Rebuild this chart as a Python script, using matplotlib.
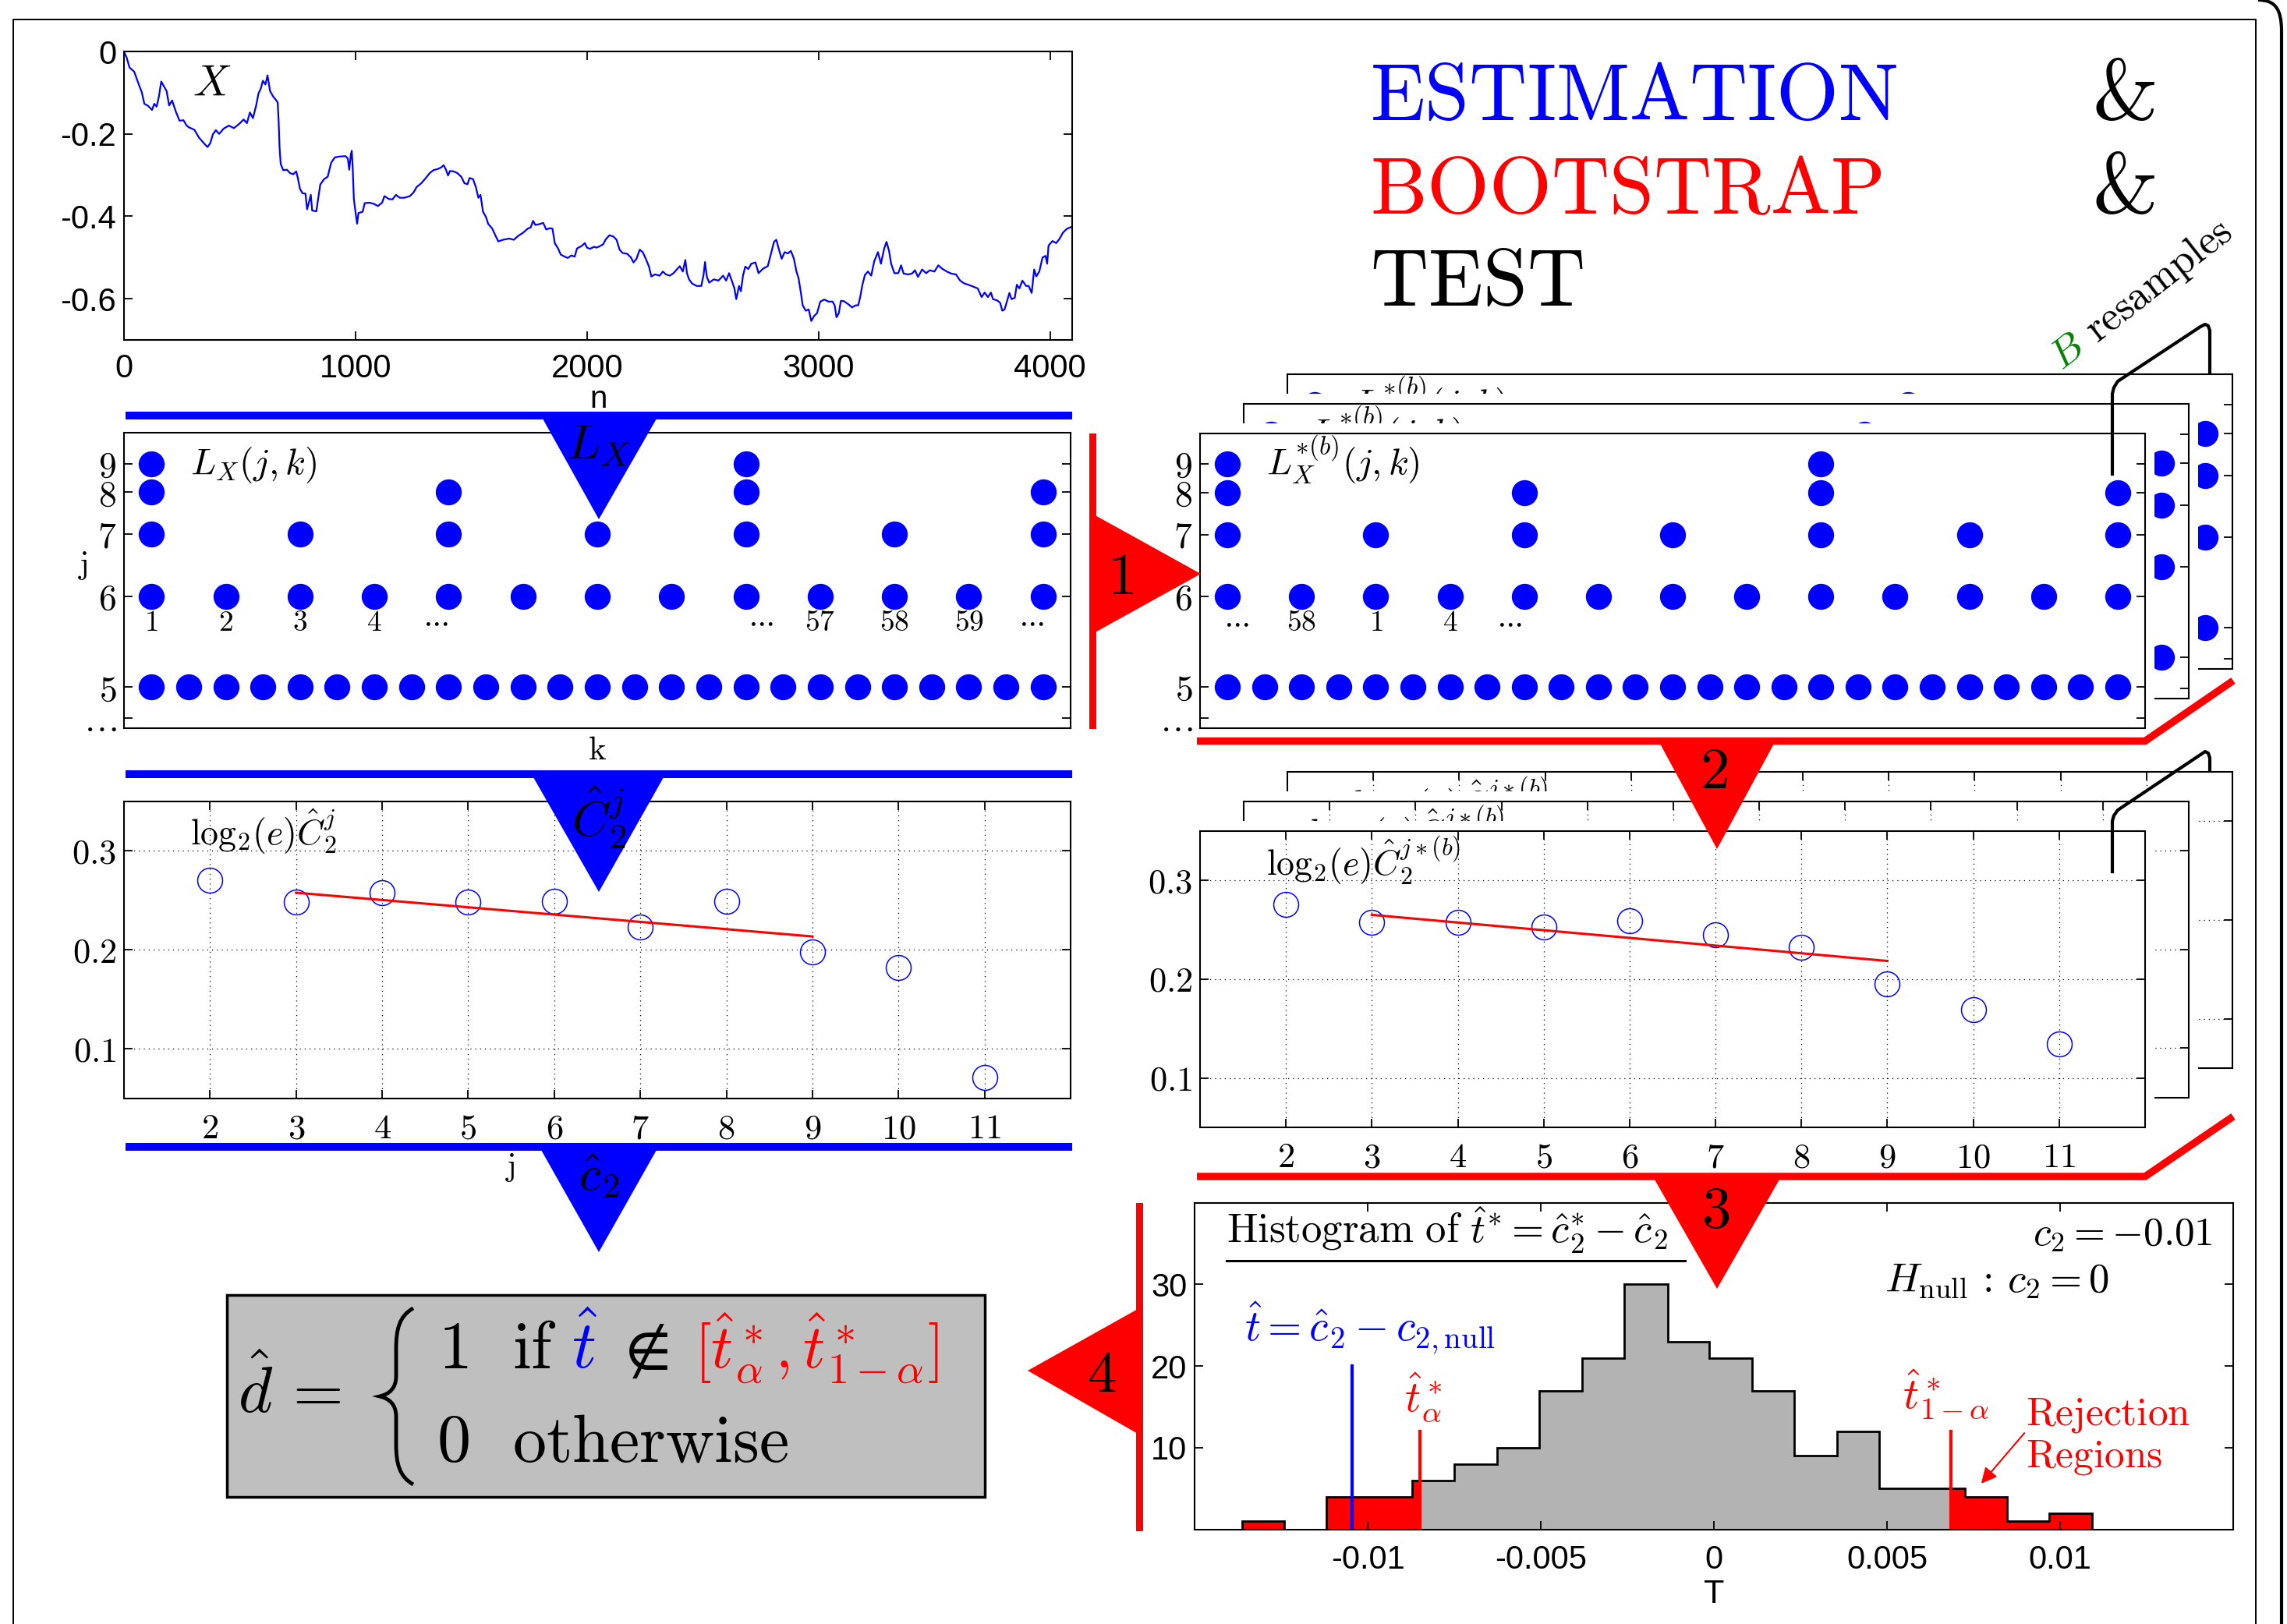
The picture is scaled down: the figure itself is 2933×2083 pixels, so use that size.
import numpy as np
import matplotlib
matplotlib.use("Agg")
import matplotlib.pyplot as plt
from matplotlib.patches import Polygon, Rectangle, PathPatch
from matplotlib.path import Path
from matplotlib.ticker import NullLocator

plt.rcParams['mathtext.fontset'] = 'cm'
plt.rcParams['font.family'] = ['Liberation Sans', 'DejaVu Sans']
plt.rcParams['axes.linewidth'] = 1.5

BLUE = '#0000ff'
RED = '#ff0000'
GREEN = '#008000'

# ---------------- data ----------------
# sample path X(n)
ts_points = [
    (0, -0.001), (11, -0.014), (24, -0.039), (44, -0.049), (64, -0.080), (77, -0.099), (88, -0.127),
    (104, -0.132), (121, -0.142), (131, -0.127), (141, -0.134), (151, -0.109), (161, -0.073),
    (171, -0.083), (184, -0.096), (195, -0.131), (208, -0.119), (224, -0.146), (240, -0.168),
    (257, -0.167), (271, -0.180), (280, -0.184), (304, -0.190), (324, -0.209), (344, -0.222),
    (361, -0.232), (373, -0.222), (384, -0.201), (397, -0.191), (411, -0.200), (431, -0.187),
    (453, -0.180), (475, -0.186), (497, -0.176), (517, -0.165), (531, -0.174), (544, -0.148),
    (557, -0.162), (571, -0.131), (581, -0.102), (591, -0.090), (600, -0.071), (611, -0.080),
    (620, -0.058), (631, -0.096), (644, -0.109), (657, -0.118), (664, -0.124), (668, -0.168),
    (672, -0.232), (677, -0.273), (688, -0.288), (704, -0.287), (717, -0.295), (731, -0.298),
    (744, -0.291), (751, -0.307), (760, -0.333), (771, -0.344), (784, -0.345), (791, -0.383),
    (800, -0.364), (807, -0.348), (813, -0.386), (831, -0.388), (837, -0.364), (848, -0.323),
    (864, -0.310), (880, -0.304), (895, -0.270), (911, -0.257), (931, -0.255), (957, -0.254),
    (967, -0.260), (973, -0.287), (980, -0.250), (984, -0.241), (988, -0.282), (993, -0.358),
    (1000, -0.389), (1007, -0.418), (1013, -0.392), (1031, -0.389), (1040, -0.368), (1061, -0.367),
    (1080, -0.370), (1097, -0.375), (1115, -0.367), (1125, -0.351), (1144, -0.358), (1160, -0.359),
    (1175, -0.348), (1191, -0.355), (1211, -0.355), (1235, -0.351), (1251, -0.342), (1264, -0.329),
    (1284, -0.320), (1304, -0.307), (1321, -0.295), (1337, -0.288), (1357, -0.285), (1371, -0.281),
    (1381, -0.276), (1391, -0.287), (1400, -0.301), (1408, -0.290), (1424, -0.291), (1440, -0.295),
    (1457, -0.304), (1471, -0.320), (1484, -0.322), (1493, -0.307), (1508, -0.310), (1520, -0.329),
    (1531, -0.355), (1540, -0.348), (1551, -0.389), (1564, -0.402), (1573, -0.418), (1591, -0.430),
    (1604, -0.446), (1617, -0.461), (1637, -0.457), (1664, -0.454), (1684, -0.457), (1704, -0.447),
    (1724, -0.440), (1744, -0.430), (1757, -0.427), (1767, -0.411), (1777, -0.421), (1795, -0.419),
    (1811, -0.416), (1824, -0.432), (1840, -0.429), (1851, -0.430), (1861, -0.465), (1875, -0.478),
    (1887, -0.493), (1904, -0.498), (1917, -0.501), (1933, -0.495), (1947, -0.498), (1957, -0.478),
    (1977, -0.472), (1991, -0.465), (2000, -0.476), (2013, -0.479), (2031, -0.474), (2041, -0.476),
    (2054, -0.473), (2070, -0.468), (2081, -0.456), (2097, -0.446), (2114, -0.449), (2128, -0.457),
    (2141, -0.481), (2154, -0.489), (2174, -0.491), (2190, -0.500), (2201, -0.512), (2214, -0.503),
    (2228, -0.481), (2241, -0.487), (2254, -0.503), (2268, -0.522), (2278, -0.546), (2294, -0.541),
    (2314, -0.544), (2328, -0.534), (2341, -0.541), (2358, -0.544), (2374, -0.538), (2388, -0.529),
    (2401, -0.521), (2414, -0.534), (2425, -0.506), (2432, -0.538), (2441, -0.553), (2454, -0.563),
    (2474, -0.569), (2494, -0.569), (2504, -0.541), (2510, -0.511), (2518, -0.547), (2528, -0.561),
    (2548, -0.553), (2568, -0.556), (2588, -0.544), (2601, -0.556), (2614, -0.538), (2628, -0.560),
    (2637, -0.575), (2645, -0.601), (2657, -0.569), (2665, -0.582), (2674, -0.544), (2684, -0.522),
    (2697, -0.528), (2710, -0.515), (2728, -0.512), (2741, -0.538), (2761, -0.527), (2781, -0.521),
    (2794, -0.493), (2808, -0.462), (2818, -0.457), (2828, -0.478), (2841, -0.503), (2854, -0.487),
    (2868, -0.490), (2881, -0.484), (2894, -0.503), (2905, -0.534), (2914, -0.550), (2924, -0.585),
    (2932, -0.616), (2945, -0.629), (2958, -0.626), (2969, -0.654), (2981, -0.642), (2994, -0.635),
    (3008, -0.607), (3025, -0.602), (3044, -0.607), (3061, -0.607), (3070, -0.616), (3078, -0.645),
    (3088, -0.635), (3097, -0.605), (3110, -0.606), (3128, -0.613), (3145, -0.621), (3161, -0.616),
    (3172, -0.616), (3181, -0.594), (3190, -0.566), (3201, -0.542), (3214, -0.534), (3228, -0.544),
    (3241, -0.509), (3257, -0.487), (3270, -0.515), (3284, -0.478), (3294, -0.462), (3305, -0.484),
    (3314, -0.515), (3328, -0.538), (3345, -0.538), (3357, -0.519), (3368, -0.539), (3388, -0.541),
    (3404, -0.539), (3417, -0.531), (3430, -0.547), (3448, -0.529), (3465, -0.538), (3481, -0.531),
    (3501, -0.534), (3518, -0.519), (3534, -0.527), (3554, -0.534), (3574, -0.539), (3594, -0.541),
    (3612, -0.556), (3630, -0.563), (3652, -0.567), (3674, -0.572), (3688, -0.575), (3705, -0.596),
    (3718, -0.585), (3732, -0.596), (3745, -0.585), (3754, -0.601), (3772, -0.604), (3785, -0.610),
    (3794, -0.629), (3804, -0.626), (3814, -0.607), (3825, -0.586), (3834, -0.601), (3848, -0.598),
    (3857, -0.566), (3868, -0.575), (3881, -0.556), (3897, -0.569), (3908, -0.569), (3921, -0.586),
    (3932, -0.529), (3941, -0.546), (3954, -0.534), (3968, -0.500), (3981, -0.496), (3988, -0.515),
    (3994, -0.471), (4011, -0.460), (4027, -0.465), (4041, -0.455), (4057, -0.439), (4074, -0.430),
    (4092, -0.426),
]
ts_n = [p[0] for p in ts_points]
ts_x = [p[1] for p in ts_points]

# wavelet leaders present at each scale j (index k, spacing 2^j)
lead_k = {5: list(range(25)), 6: list(range(13)), 7: list(range(7)), 8: [0, 1, 2, 3], 9: [0, 1]}
lead_ticks = [4.731, 5, 6, 7, 8, 9]
lead_ticklabels = [r'$\ldots$', '$5$', '$6$', '$7$', '$8$', '$9$']

# block labels written under the j=6 row (position in j=6 index units)
orig_blocks = ['1', '2', '3', '4', r'\cdots', r'\cdots', '57', '58', '59', r'\cdots']
orig_block_at = [0, 1, 2, 3, 3.82, 8.2, 9, 10, 11, 11.84]
boot_blocks = [r'\cdots', '58', '1', '4', r'\cdots']
boot_block_at = [0.12, 1, 2, 3, 3.8]

# structure functions
scales = [2, 3, 4, 5, 6, 7, 8, 9, 10, 11]
c2_orig = [0.270, 0.248, 0.2575, 0.248, 0.249, 0.223, 0.249, 0.198, 0.182, 0.071]
c2_boot = [0.2755, 0.258, 0.258, 0.253, 0.259, 0.245, 0.232, 0.1955, 0.1694, 0.1348]
fit_j = [3, 9]
fit_orig = [0.2575, 0.2133]
fit_boot = [0.2652, 0.2185]

# bootstrap histogram of t*
hist_edges = [-0.01363, -0.0124, -0.01119, -0.00998, -0.00872, -0.00749, -0.00626, -0.00504,
              -0.00381, -0.00258, -0.00134, -0.00013, 0.0011, 0.00233, 0.00355, 0.00478,
              0.00601, 0.00725, 0.00846, 0.00969, 0.01092]
hist_counts = [1, 0, 4, 4, 6, 8, 10, 17, 21, 30, 23, 21, 17, 9, 12, 5, 5, 4, 1, 2]
t_hat = -0.01044
t_lo = -0.0085
t_hi = 0.00685

# ---------------- figure ----------------
W, H = 2933, 2083
fig = plt.figure(figsize=(W / 100, H / 100), dpi=100)
fig.patch.set_facecolor('white')


def add_panel(l, t, r, b, z=0):
    return fig.add_axes([l / W, 1 - b / H, (r - l) / W, (b - t) / H], zorder=z)


def backdrop(l, t, r, b, z):
    fig.add_artist(Rectangle((l / W, 1 - b / H), (r + 12 - l) / W, (b - t + 13) / H,
                             transform=fig.transFigure, fc='white', ec='none', zorder=z))


def box_ticks(ax, **kw):
    ax.tick_params(direction='in', top=True, right=True, length=8, width=1.3, **kw)


def panel_text(ax, dx, dy, s, size, **kw):
    bb = ax.get_position()
    wpx, hpx = bb.width * W, bb.height * H
    ax.text(dx / wpx, 1 - dy / hpx, s, transform=ax.transAxes, fontsize=size,
            va='baseline', ha='left', **kw)


def lvl_fwd(j):
    return -np.power(1.47, -np.asarray(j, dtype=float))


def lvl_inv(y):
    y = np.minimum(np.asarray(y, dtype=float), -1e-12)
    return -np.log(-y) / np.log(1.47)


def leader_panel(ax, blocks, block_at, title, labels=True):
    ax.set_yscale('function', functions=(lvl_fwd, lvl_inv))
    for j, ks in lead_k.items():
        xs = np.array(ks) * 2.0 ** j
        ax.plot(xs, np.full(len(xs), j), 'o', color=BLUE, ms=24, mew=0)
    ax.set_xlim(-0.74 * 32, 24.74 * 32)
    ax.set_ylim(4.65, 10.83)
    ax.set_yticks(lead_ticks)
    ax.set_yticklabels(lead_ticklabels if labels else [])
    ax.yaxis.set_minor_locator(NullLocator())
    ax.set_xticks([])
    box_ticks(ax, labelsize=33, pad=7)
    for b, pos in zip(blocks, block_at):
        ax.annotate('$' + b + '$', (pos * 2 ** 6, 6), xytext=(0, -34), textcoords='offset pixels',
                    ha='center', va='center', fontsize=27)
    panel_text(ax, 85, 53, title, 34)


def c2_panel(ax, vals, fit, title, labels=True):
    ax.plot(scales, vals, 'o', mfc='none', mec=BLUE, ms=23, mew=1.1)
    ax.plot(fit_j, fit, color=RED, lw=2.2)
    ax.set_xlim(1, 12)
    ax.set_ylim(0.05, 0.35)
    ax.set_xticks(scales)
    ax.set_yticks([0.1, 0.2, 0.3])
    if labels:
        ax.set_xticklabels(['$%d$' % s for s in scales])
        ax.set_yticklabels(['$0.1$', '$0.2$', '$0.3$'])
    else:
        ax.set_xticklabels([])
        ax.set_yticklabels([])
    ax.grid(True, ls=(0, (1, 4)), color='k', lw=0.9)
    box_ticks(ax, labelsize=32)
    ax.tick_params(axis='x', pad=14)
    ax.tick_params(axis='y', pad=7)
    panel_text(ax, 85, 57, title, 33)


# time series X
ax_ts = add_panel(159, 66, 1375, 436, z=5)
ax_ts.plot(ts_n, ts_x, color=BLUE, lw=1.6)
ax_ts.set_xlim(0, 4096)
ax_ts.set_ylim(-0.7, 0)
ax_ts.set_xticks([0, 1000, 2000, 3000, 4000])
ax_ts.set_yticks([-0.6, -0.4, -0.2, 0])
ax_ts.set_yticklabels(['-0.6', '-0.4', '-0.2', '0'])
box_ticks(ax_ts, labelsize=30)
ax_ts.tick_params(axis='x', pad=12)
ax_ts.tick_params(axis='y', pad=7)
ax_ts.set_xlabel('n', fontsize=29, va='center')
ax_ts.xaxis.set_label_coords((768 - 159) / 1216, -(512 - 436) / 370)
panel_text(ax_ts, 88, 57, r'$X$', 40)

# leaders of X
ax_lx = add_panel(159, 555, 1373, 934, z=5)
leader_panel(ax_lx, orig_blocks, orig_block_at, r'$L_X(j,k)$')
ax_lx.set_ylabel(r'$\mathrm{j}$', fontsize=30, rotation=0, va='center', ha='center')
ax_lx.yaxis.set_label_coords(-(159 - 106) / 1214, 1 - (725 - 555) / 379)
ax_lx.set_xlabel(r'$\mathrm{k}$', fontsize=31, va='center')
ax_lx.xaxis.set_label_coords((766 - 159) / 1214, -(963 - 934) / 379)

# structure function of X
ax_cx = add_panel(159, 1027.5, 1373, 1408.6, z=5)
c2_panel(ax_cx, c2_orig, fit_orig, r'$\mathrm{log}_2(e)\hat{C}_2^j$')
ax_cx.set_xlabel(r'$\mathrm{j}$', fontsize=30, va='center')
ax_cx.xaxis.set_label_coords((654 - 159) / 1214, -(1497 - 1408.6) / 381)

# stacked bootstrap leaders (back to front)
offsets = [(112, -76), (56, -38), (0, 0)]
for i, (ox, oy) in enumerate(offsets):
    z = 1 + 2 * i
    rect = (1539 + ox, 555.6 + oy, 2751 + ox, 933.6 + oy)
    if i > 0:
        backdrop(*rect, z=z - 1)
    ax = add_panel(*rect, z=z)
    leader_panel(ax, boot_blocks, boot_block_at, r'$L_X^{*(b)}(j,k)$', labels=(i == 2))

# stacked bootstrap structure functions
for i, (ox, oy) in enumerate([(112, -76), (56, -38.5), (0, 0)]):
    z = 1 + 2 * i
    rect = (1539 + ox, 1066 + oy, 2751 + ox, 1446 + oy)
    if i > 0:
        backdrop(*rect, z=z - 1)
    ax = add_panel(*rect, z=z)
    c2_panel(ax, c2_boot, fit_boot, r'$\mathrm{log}_2(e)\hat{C}_2^{j*(b)}$', labels=(i == 2))

# histogram of bootstrap statistics
ax_h = add_panel(1532, 1542.7, 2864, 1961.5, z=5)
edges = np.array(hist_edges)
counts = np.array(hist_counts)
ax_h.stairs(counts, edges, fill=True, color='0.7')
lo = edges[:-1] < t_lo
ax_h.stairs(counts[lo], np.append(edges[:-1][lo], t_lo), fill=True, color=RED)
hi = edges[1:] > t_hi
ax_h.stairs(counts[hi], np.insert(edges[1:][hi], 0, t_hi), fill=True, color=RED)
ax_h.stairs(counts, edges, color='k', lw=2)
ax_h.plot([t_hat, t_hat], [0, 20], color=BLUE, lw=3)
ax_h.plot([t_lo, t_lo], [0, 12], color=RED, lw=3)
ax_h.plot([t_hi, t_hi], [0, 12], color=RED, lw=3)
ax_h.set_xlim(-0.015, 0.015)
ax_h.set_ylim(0, 40)
ax_h.set_xticks([-0.01, -0.005, 0, 0.005, 0.01])
ax_h.set_xticklabels(['-0.01', '-0.005', '0', '0.005', '0.01'])
ax_h.set_yticks([10, 20, 30])
box_ticks(ax_h, labelsize=30)
ax_h.tick_params(axis='x', pad=14)
ax_h.tick_params(axis='y', pad=7)
ax_h.set_xlabel('T', fontsize=31, va='center')
ax_h.xaxis.set_label_coords(0.5, -(2045 - 1961.5) / 419)

# ---------------- overlay in pixel coordinates ----------------
ov = fig.add_axes([0, 0, 1, 1], zorder=10)
ov.set_xlim(0, W)
ov.set_ylim(H, 0)
ov.axis('off')

# slide frame
ov.plot([17, 17, 2893, 2893], [H, 25, 25, H], color='k', lw=1.4, clip_on=False)
frame = Path([(2896, 0), (2918, 0), (2926, 12), (2926, 40), (2926, H)],
             [Path.MOVETO, Path.CURVE4, Path.CURVE4, Path.CURVE4, Path.LINETO])
ov.add_patch(PathPatch(frame, fc='none', ec='k', lw=3, clip_on=False))

# title
ov.text(1757, 153, r'$\mathrm{ESTIMATION}$', color=BLUE, fontsize=74, va='baseline')
ov.text(1757, 273, r'$\mathrm{BOOTSTRAP}$', color=RED, fontsize=74, va='baseline')
ov.text(1757, 391, r'$\mathrm{TEST}$', color='k', fontsize=74, va='baseline')
ov.text(2683, 153, '&', fontsize=78, va='baseline', family='cmr10')
ov.text(2683, 273, '&', fontsize=78, va='baseline', family='cmr10')

# blue estimation arrows
for y0, (xl, xr), tip, label, base in [
        (528, (696, 842), 666, r'$L_X$', 588),
        (988, (684, 851), 1144, r'$\hat{C}_2^j$', 1073),
        (1466, (694, 842), 1606, r'$\hat{c}_2$', 1526)]:
    ov.add_patch(Rectangle((161, y0), 1214, 10, color=BLUE, lw=0))
    ov.add_patch(Polygon([(xl, y0 + 9), (xr, y0 + 9), (768, tip)], closed=True, color=BLUE, lw=0))
    ov.text(768, base, label, fontsize=46, ha='center', va='baseline')

# red bootstrap arrows
ov.add_patch(Rectangle((1397, 556), 9, 379, color=RED, lw=0))
ov.add_patch(Polygon([(1401, 659), (1401, 813), (1540, 736)], closed=True, color=RED, lw=0))
ov.text(1437, 762, r'$\mathbf{1}$', fontsize=54, ha='center', va='baseline')

ov.plot([1535, 2751, 2864], [950.5, 950.5, 873], color=RED, lw=6.8, solid_joinstyle='miter',
        solid_capstyle='butt')
ov.add_patch(Polygon([(2129, 954), (2275, 954), (2202, 1089)], closed=True, color=RED, lw=0))
ov.text(2198, 1011, r'$\mathbf{2}$', fontsize=54, ha='center', va='baseline')

ov.plot([1535, 2751, 2864], [1509, 1509, 1432], color=RED, lw=6.8, solid_joinstyle='miter',
        solid_capstyle='butt')
ov.add_patch(Polygon([(2122, 1513), (2282, 1513), (2202, 1653)], closed=True, color=RED, lw=0))
ov.text(2200, 1574, r'$\mathbf{3}$', fontsize=54, ha='center', va='baseline')

ov.add_patch(Rectangle((1457, 1543), 9, 421, color=RED, lw=0))
ov.add_patch(Polygon([(1461, 1678), (1461, 1840), (1318, 1758)], closed=True, color=RED, lw=0))
ov.text(1413, 1785, r'$\mathbf{4}$', fontsize=54, ha='center', va='baseline')

# B resamples brackets
for ys in ([608, 505, 497, 489, 419, 416, 418, 424, 478],
           [1118, 1053, 1046, 1039, 968, 964, 966, 972, 989]):
    ov.plot([2709, 2709, 2711, 2716, 2822, 2828, 2832, 2834, 2834], ys, color='k', lw=3,
            solid_joinstyle='round')
ang = 38
ov.text(2644, 476, r'$B$', color=GREEN, fontsize=38, rotation=ang, rotation_mode='anchor',
        va='baseline', ha='left')
step = 58
ov.text(2644 + step * np.cos(np.radians(ang)), 476 - step * np.sin(np.radians(ang)),
        r'$\mathrm{resamples}$', fontsize=38, rotation=ang, rotation_mode='anchor',
        va='baseline', ha='left')

# histogram annotations
ov.text(1573, 1595, r'$\mathrm{Histogram\ of\ }\hat{t}^{*}=\hat{c}_2^{*}-\hat{c}_2$',
        fontsize=38, va='baseline')
ov.plot([1573, 2161], [1617, 1617], color='k', lw=2.2)
ov.text(2838, 1597, r'$c_2=-0.01$', fontsize=37, ha='right', va='baseline')
ov.text(2417, 1657, r'$H_{\mathrm{null}}\,:\,c_2=0$', fontsize=38, va='baseline')
ov.text(1596, 1720, r'$\hat{t}=\hat{c}_2-c_{2,\mathrm{null}}$', color=BLUE, fontsize=40,
        va='baseline')
ov.text(1801, 1811, r'$\hat{t}^*_{\alpha}$', color=RED, fontsize=40, va='baseline')
ov.text(2440, 1807, r'$\hat{t}^*_{1-\alpha}$', color=RED, fontsize=40, va='baseline')
ov.text(2598, 1828, r'$\mathrm{Rejection}$', color=RED, fontsize=37, va='baseline')
ov.text(2598, 1882, r'$\mathrm{Regions}$', color=RED, fontsize=37, va='baseline')
ov.annotate('', xy=(2539, 1905), xytext=(2598, 1836),
            arrowprops=dict(arrowstyle='-|>', color=RED, lw=1.5, mutation_scale=30))

# decision rule
ov.add_patch(Rectangle((291, 1661), 972, 259, fc='#bfbfbf', ec='k', lw=2.5))
ov.text(305, 1812, r'$\hat{d}\,=$', fontsize=60, va='baseline')
brace = Path([(530, 1678), (512, 1688), (508, 1705), (508, 1730), (508, 1765),
              (508, 1780), (500, 1788), (487, 1791), (500, 1794), (508, 1802), (508, 1817),
              (508, 1852), (508, 1877), (512, 1894), (530, 1904)],
             [Path.MOVETO, Path.CURVE4, Path.CURVE4, Path.CURVE4, Path.LINETO,
              Path.CURVE4, Path.CURVE4, Path.CURVE4, Path.CURVE4, Path.CURVE4, Path.CURVE4,
              Path.LINETO, Path.CURVE4, Path.CURVE4, Path.CURVE4])
ov.add_patch(PathPatch(brace, fc='none', ec='k', lw=3.5))
ov.text(562, 1755, r'$1$', fontsize=62, va='baseline')
ov.text(657, 1755, r'$\mathrm{if}$', fontsize=62, va='baseline')
ov.text(733, 1755, r'$\hat{t}$', color=BLUE, fontsize=62, va='baseline')
ov.text(786, 1755, r'$\notin$', fontsize=62, va='baseline')
ov.text(890, 1755, r'$[\hat{t}^*_{\alpha},\hat{t}^*_{1-\alpha}]$', color=RED, fontsize=56,
        va='baseline')
ov.text(560, 1874, r'$0$', fontsize=62, va='baseline')
ov.text(657, 1874, r'$\mathrm{otherwise}$', fontsize=62, va='baseline')

fig.savefig('out.png', dpi=100, facecolor='white')
